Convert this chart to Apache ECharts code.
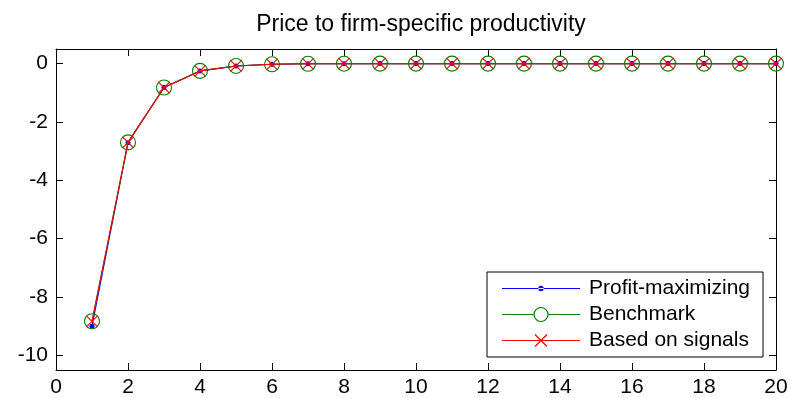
<!DOCTYPE html>
<html>
<head>
<meta charset="utf-8">
<script src="https://cdn.jsdelivr.net/npm/echarts@6/dist/echarts.min.js"></script>
<style>
html,body{margin:0;padding:0;background:#fff;}
#chart{width:791px;height:398px;}
</style>
</head>
<body>
<div id="chart"></div>
<script>
const periods = [1,2,3,4,5,6,7,8,9,10,11,12,13,14,15,16,17,18,19,20];
const profitMax = [-9.0,-2.71,-0.82,-0.25,-0.08,-0.025,-0.008,-0.003,-0.001,0,0,0,0,0,0,0,0,0,0,0];
const benchmark = [-8.83,-2.70,-0.82,-0.25,-0.08,-0.025,-0.008,-0.003,-0.001,0,0,0,0,0,0,0,0,0,0,0];
const signals = [-8.83,-2.70,-0.82,-0.25,-0.08,-0.025,-0.008,-0.003,-0.001,0,0,0,0,0,0,0,0,0,0,0];
const xTicks = [0,2,4,6,8,10,12,14,16,18,20];
const yTicks = [-10,-8,-6,-4,-2,0];
const seriesNames = ['Profit-maximizing','Benchmark','Based on signals'];
const seriesColors = ['#0000ff','#008000','#ff0000'];

const FONT = 'Liberation Sans, Arial, sans-serif';
const pairs = arr => periods.map((p,i)=>[p,arr[i]]);

// legend icon shapes (78 x 16 box), filled with series colour
const BOX = 'M0,0L0.01,0L0,0.01Z M78,16L77.99,16L78,15.99Z ';
const LINE_FULL = 'M0,7.45L78,7.45L78,8.55L0,8.55Z ';
const ICON_PROFIT = 'path://' + BOX + LINE_FULL + 'M41.7,8A2.7,2.7 0 1 0 36.3,8A2.7,2.7 0 1 0 41.7,8Z';
const ICON_BENCH = 'path://' + BOX + 'M0,7.45L31.5,7.45L31.5,8.55L0,8.55Z M46.5,7.45L78,7.45L78,8.55L46.5,8.55Z ' +
  'M46.6,8A7.6,7.6 0 1 0 31.4,8A7.6,7.6 0 1 0 46.6,8Z M45.4,8A6.4,6.4 0 1 1 32.6,8A6.4,6.4 0 1 1 45.4,8Z';
const ICON_SIGNAL = 'path://' + BOX + LINE_FULL +
  'M33.42,1.58L45.42,13.58L44.58,14.42L32.58,2.42Z M45.42,2.42L33.42,14.42L32.58,13.58L44.58,1.58Z';

const chart = echarts.init(document.getElementById('chart'), null, {renderer:'canvas'});
const axisLine = {show:true, onZero:false, lineStyle:{color:'#000', width:1}};
const tickStyle = {show:true, inside:true, length:7, lineStyle:{color:'#000', width:1}};

chart.setOption({
  animation:false,
  backgroundColor:'#fff',
  title:{
    text:'Price to firm-specific productivity',
    left:416, textAlign:'center', top:8,
    textStyle:{fontFamily:FONT, fontSize:23, fontWeight:'normal', color:'#000'}
  },
  grid:{left:56, right:15, top:49, bottom:28, containLabel:false},
  legend:{
    orient:'vertical', left:487, top:272,
    padding:[6,13,6,15], itemGap:5, itemWidth:78, itemHeight:16,
    borderColor:'#000', borderWidth:1, backgroundColor:'#fff',
    itemStyle:{borderWidth:0},
    textStyle:{fontFamily:FONT, fontSize:21, color:'#000', padding:[0,0,0,4]},
    data:[
      {name:seriesNames[0], icon:ICON_PROFIT, itemStyle:{color:seriesColors[0], borderWidth:0}},
      {name:seriesNames[1], icon:ICON_BENCH, itemStyle:{color:seriesColors[1], borderWidth:0}},
      {name:seriesNames[2], icon:ICON_SIGNAL, itemStyle:{color:seriesColors[2], borderWidth:0}}
    ]
  },
  xAxis:[
    {type:'value', min:0, max:20, interval:2, position:'bottom',
     axisLine:axisLine, axisTick:Object.assign({}, tickStyle, {customValues:xTicks}),
     axisLabel:{customValues:xTicks, fontFamily:FONT, fontSize:21, color:'#000', margin:7},
     splitLine:{show:false}},
    {type:'value', min:0, max:20, interval:2, position:'top',
     axisLine:axisLine, axisTick:Object.assign({}, tickStyle, {customValues:xTicks}),
     axisLabel:{show:false}, splitLine:{show:false}}
  ],
  yAxis:[
    {type:'value', min:-10.5, max:0.5, position:'left',
     axisLine:axisLine, axisTick:Object.assign({}, tickStyle, {customValues:yTicks}),
     axisLabel:{customValues:yTicks, fontFamily:FONT, fontSize:21, color:'#000', margin:8},
     splitLine:{show:false}},
    {type:'value', min:-10.5, max:0.5, position:'right',
     axisLine:axisLine, axisTick:Object.assign({}, tickStyle, {customValues:yTicks}),
     axisLabel:{show:false}, splitLine:{show:false}}
  ],
  series:[
    {name:seriesNames[0], type:'line', data:pairs(profitMax), symbol:'circle', symbolSize:5,
     lineStyle:{color:seriesColors[0], width:1.1}, itemStyle:{color:seriesColors[0]}, z:2},
    {name:seriesNames[1], type:'line', data:pairs(benchmark), symbol:'circle', symbolSize:15,
     lineStyle:{color:seriesColors[1], width:1.1},
     itemStyle:{color:'rgba(0,0,0,0)', borderColor:seriesColors[1], borderWidth:1.1}, z:3},
    {name:seriesNames[2], type:'line', data:pairs(signals), symbol:'path://M0,0L10,10M10,0L0,10', symbolSize:11,
     lineStyle:{color:seriesColors[2], width:1.1},
     itemStyle:{color:'rgba(0,0,0,0)', borderColor:seriesColors[2], borderWidth:1.1}, z:4}
  ]
});
</script>
</body>
</html>
